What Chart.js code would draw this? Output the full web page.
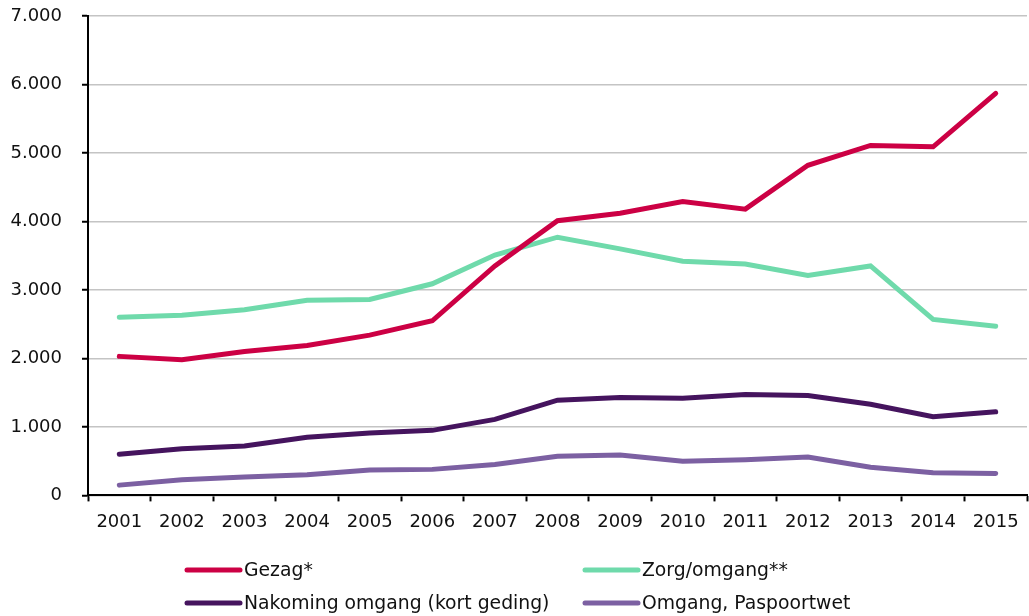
<!DOCTYPE html>
<html>
<head>
<meta charset="utf-8">
<script src="https://cdn.jsdelivr.net/npm/chart.js@4/dist/chart.umd.min.js"></script>
<style>
  html, body { margin: 0; padding: 0; background: #fff; }
  #wrap { width: 1029px; height: 616px; position: relative; }
</style>
</head>
<body>
<div id="wrap"><canvas id="c" width="1029" height="616"></canvas></div>
<script>
const years = ['2001','2002','2003','2004','2005','2006','2007','2008','2009','2010','2011','2012','2013','2014','2015'];
const gezag = [2030, 1980, 2100, 2190, 2340, 2550, 3350, 4010, 4120, 4290, 4180, 4820, 5110, 5090, 5870];
const zorgOmgang = [2600, 2630, 2710, 2850, 2860, 3090, 3510, 3770, 3600, 3420, 3380, 3210, 3350, 2570, 2470];
const nakoming = [600, 680, 720, 850, 910, 950, 1110, 1390, 1430, 1420, 1475, 1460, 1330, 1150, 1220];
const paspoortwet = [150, 230, 270, 300, 370, 380, 450, 570, 590, 500, 520, 560, 410, 330, 320];
const seriesNames = ['Gezag*', 'Zorg/omgang**', 'Nakoming omgang (kort geding)', 'Omgang, Paspoortwet'];
const yTicks = [0, 1000, 2000, 3000, 4000, 5000, 6000, 7000];

const colors = ['#cc0044', '#6fdaab', '#45145e', '#7c60a2'];
const FONT = "'DejaVu Sans', Verdana, sans-serif";

function fmt(v) {
  return String(v).replace(/\B(?=(\d{3})+(?!\d))/g, '.');
}

const legendPlugin = {
  id: 'customLegend',
  afterDraw(chart) {
    const ctx = chart.ctx;
    const cols = [185, 583];
    const rows = [570, 603];
    ctx.save();
    chart.data.datasets.forEach((ds, i) => {
      const x = cols[i % 2];
      const y = rows[Math.floor(i / 2)];
      ctx.strokeStyle = ds.borderColor;
      ctx.lineWidth = 5;
      ctx.lineCap = 'round';
      ctx.beginPath();
      ctx.moveTo(x + 2, y);
      ctx.lineTo(x + 55, y);
      ctx.stroke();
      ctx.fillStyle = '#111';
      ctx.font = "18.8px 'DejaVu Sans', Verdana, sans-serif";
      ctx.textBaseline = 'middle';
      ctx.textAlign = 'left';
      ctx.fillText(ds.label, x + 59, y + 1);
    });
    ctx.restore();
  }
};

const data = [gezag, zorgOmgang, nakoming, paspoortwet];

new Chart(document.getElementById('c'), {
  type: 'line',
  data: {
    labels: years,
    datasets: data.map((d, i) => ({
      label: seriesNames[i],
      data: d,
      borderColor: colors[i],
      backgroundColor: colors[i],
      borderWidth: 5,
      borderCapStyle: 'round',
      pointRadius: 0,
      pointHoverRadius: 0,
      tension: 0,
      fill: false
    }))
  },
  options: {
    responsive: false,
    animation: false,
    events: [],
    layout: { padding: { top: 16, right: 2, bottom: 73, left: 10 } },
    plugins: {
      legend: { display: false },
      tooltip: { enabled: false }
    },
    scales: {
      x: {
        offset: true,
        grid: {
          offset: true,
          drawOnChartArea: false,
          drawTicks: true,
          tickLength: 6,
          tickColor: '#000',
          tickWidth: 2
        },
        border: { color: '#000', width: 2 },
        ticks: {
          color: '#111',
          font: { family: FONT, size: 18 },
          padding: 10,
          maxRotation: 0,
          autoSkip: false
        }
      },
      y: {
        min: 0,
        max: 7000,
        afterBuildTicks(scale) { scale.ticks = yTicks.map(v => ({ value: v })); },
        afterFit(scale) {
          scale.width = 78;
          scale.paddingTop = 0;
          scale.paddingBottom = 0;
        },
        grid: {
          color: '#c4c4c4',
          lineWidth: 1.5,
          drawTicks: true,
          tickLength: 6,
          tickColor: '#000',
          tickWidth: 2
        },
        border: { color: '#000', width: 2 },
        ticks: {
          color: '#111',
          font: { family: FONT, size: 18 },
          padding: 20,
          callback: v => fmt(v)
        }
      }
    }
  },
  plugins: [legendPlugin]
});
</script>
</body>
</html>
